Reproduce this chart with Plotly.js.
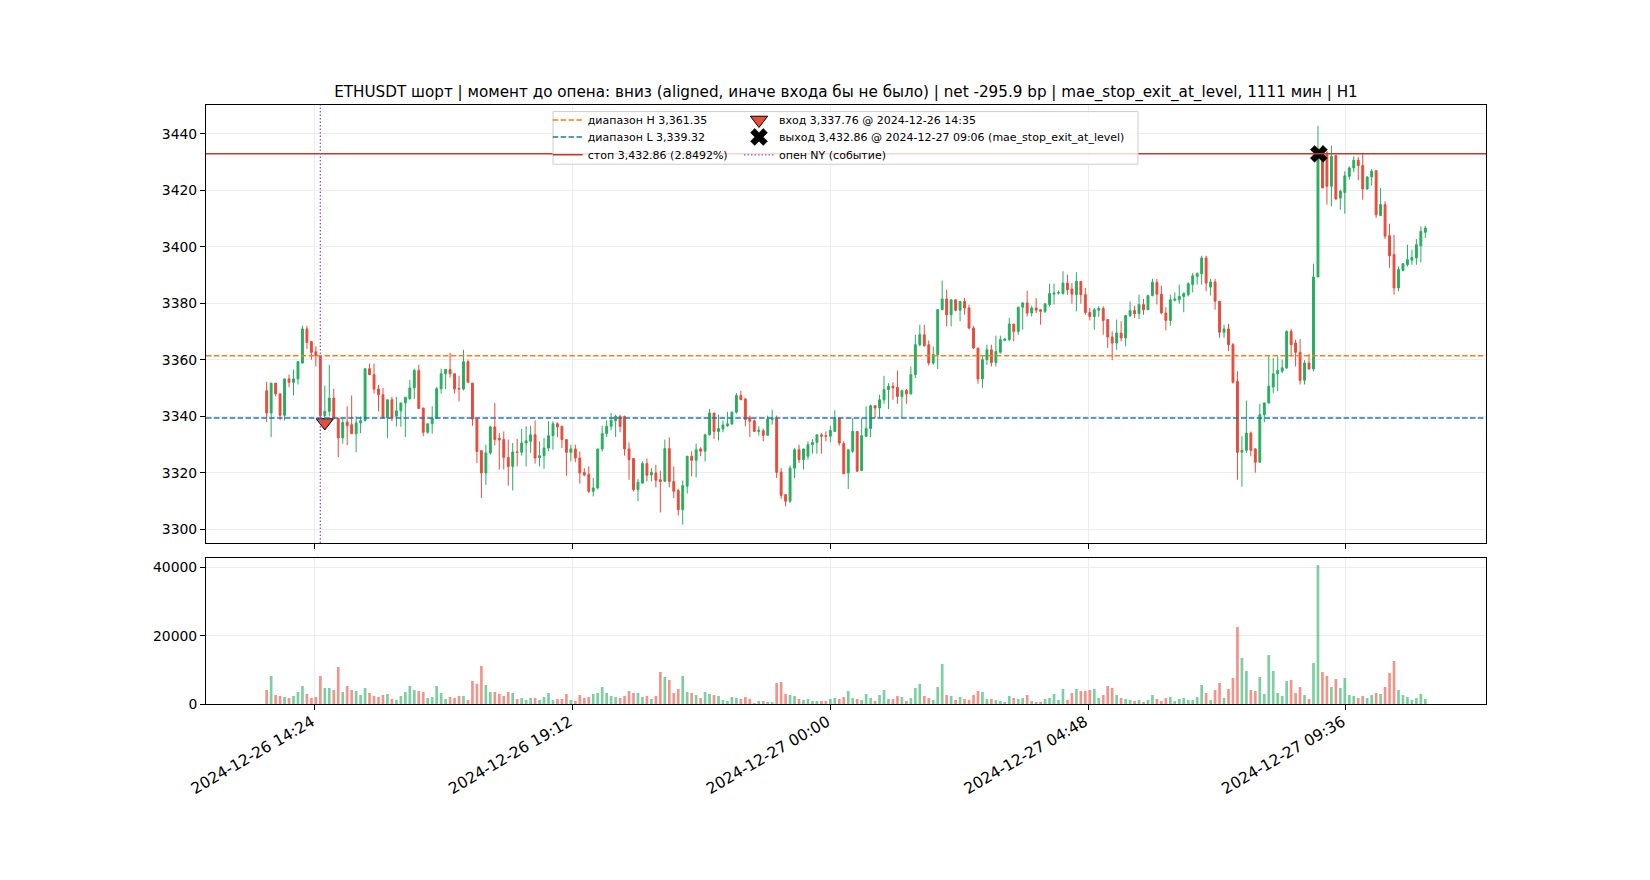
<!DOCTYPE html>
<html>
<head>
<meta charset="utf-8">
<script src="https://cdn.plot.ly/plotly-3.0.1.min.js"></script>
<style>
  html, body { margin: 0; padding: 0; background: #fff; }
  #chart { width: 1650px; height: 880px; }
</style>
</head>
<body>
<div id="chart"></div>
<script>
// 5-minute ETHUSDT bars, 2024-12-26 13:30 .. 2024-12-27 11:05 (UTC)
const BAR_START = Date.UTC(2024, 11, 26, 13, 30);
const BAR_MINUTES = 5;

const OPEN = [
    3349.0,3341.1,3351.7,3347.9,3340.3,3353.2,3352.0,3353.2,3358.8,3370.9,
    3366.4,3362.8,3361.4,3340.2,3341.7,3346.4,3339.3,3332.3,3337.9,3337.0,
    3333.8,3337.6,3338.4,3356.8,3354.7,3349.6,3347.6,3339.4,3345.8,3340.0,
    3341.9,3344.7,3346.2,3350.0,3356.2,3342.9,3334.3,3337.3,3339.3,3349.7,
    3355.0,3356.5,3355.0,3349.8,3349.6,3359.3,3351.7,3339.0,3327.8,3319.9,
    3327.0,3336.2,3332.2,3331.7,3325.4,3322.2,3327.3,3327.2,3330.5,3331.1,
    3333.4,3325.3,3326.0,3328.7,3333.1,3337.3,3336.4,3331.7,3327.2,3328.4,
    3325.2,3320.1,3319.4,3313.4,3314.6,3328.4,3333.8,3336.4,3338.4,3339.9,
    3339.9,3328.4,3325.0,3314.0,3316.3,3323.2,3319.2,3319.9,3317.5,3316.9,
    3328.5,3316.9,3313.7,3306.9,3315.2,3325.8,3324.4,3328.4,3327.6,3333.4,
    3341.1,3334.6,3335.5,3336.6,3337.2,3341.4,3347.3,3346.1,3339.4,3338.4,
    3334.6,3334.8,3333.2,3338.8,3339.1,3320.2,3312.2,3309.9,3321.6,3328.1,
    3324.6,3325.8,3329.9,3330.7,3333.4,3333.1,3332.9,3334.6,3339.3,3330.3,
    3319.9,3327.6,3334.6,3320.8,3332.9,3335.6,3343.7,3342.9,3345.8,3349.4,
    3350.6,3350.2,3347.0,3349.1,3347.9,3354.7,3365.3,3368.8,3365.3,3358.8,
    3361.8,3377.7,3381.5,3375.9,3381.2,3377.5,3380.6,3378.3,3371.2,3364.1,
    3353.2,3360.0,3363.5,3359.0,3362.6,3366.8,3367.1,3372.6,3370.0,3378.6,
    3380.1,3376.5,3378.3,3377.7,3377.1,3379.5,3383.2,3383.6,3383.4,3387.1,
    3385.0,3383.0,3387.7,3383.0,3376.7,3375.3,3377.5,3378.1,3374.2,3368.0,
    3365.9,3369.4,3367.7,3375.6,3377.4,3376.3,3379.5,3377.7,3382.7,3387.4,
    3383.2,3376.5,3373.9,3381.0,3381.2,3382.4,3383.0,3386.6,3389.5,3390.4,
    3396.0,3385.7,3387.5,3380.7,3369.7,3370.9,3365.3,3352.3,3327.2,3327.9,
    3334.0,3328.4,3323.7,3340.5,3344.7,3350.3,3355.0,3355.9,3357.1,3370.0,
    3365.9,3362.6,3352.7,3358.8,3356.7,3389.3,3434.5,3433.2,3421.4,3432.2,
    3417.2,3419.2,3424.9,3427.9,3430.6,3428.7,3420.4,3424.7,3426.9,3411.0,
    3414.9,3403.9,3397.2,3385.4,3391.6,3393.6,3395.2,3396.0,3400.3,3405.1,
];
const HIGH = [
    3352.1,3351.7,3351.7,3347.9,3353.2,3354.7,3356.5,3359.3,3372.0,3372.0,
    3366.4,3364.7,3361.4,3350.8,3358.2,3349.7,3339.3,3339.3,3343.5,3347.3,
    3339.9,3339.9,3356.8,3358.6,3358.6,3351.1,3350.0,3345.8,3346.8,3346.8,
    3344.7,3346.7,3352.9,3356.8,3358.2,3342.9,3337.3,3343.5,3350.3,3356.8,
    3356.7,3362.4,3355.0,3354.3,3363.5,3360.0,3351.7,3339.0,3327.8,3329.9,
    3336.6,3344.7,3334.0,3334.6,3331.7,3330.5,3331.9,3335.5,3336.4,3336.6,
    3338.5,3331.1,3332.3,3338.2,3338.2,3337.8,3336.6,3331.7,3329.9,3329.9,
    3327.5,3321.6,3322.2,3318.1,3328.4,3336.6,3338.5,3341.1,3340.5,3340.5,
    3340.2,3330.7,3325.0,3317.8,3324.0,3325.0,3321.6,3322.8,3320.7,3331.7,
    3332.5,3322.2,3314.3,3317.2,3325.8,3327.6,3330.3,3329.0,3333.8,3342.5,
    3341.1,3340.5,3338.4,3341.5,3341.7,3348.2,3349.0,3346.4,3340.2,3338.8,
    3336.4,3335.6,3340.2,3342.3,3340.2,3321.6,3312.2,3322.5,3328.7,3329.9,
    3328.4,3331.1,3331.9,3333.4,3334.0,3334.6,3336.6,3342.1,3339.3,3331.1,
    3328.1,3339.3,3334.6,3339.3,3343.5,3344.1,3343.7,3347.6,3354.3,3351.7,
    3352.0,3356.2,3349.4,3349.6,3357.6,3368.8,3372.4,3372.4,3366.8,3364.7,
    3377.9,3388.0,3384.8,3381.2,3381.2,3380.6,3381.8,3379.5,3372.0,3364.1,
    3361.4,3365.3,3365.3,3368.5,3368.5,3367.7,3374.8,3372.6,3378.6,3380.3,
    3384.4,3379.1,3381.8,3377.7,3379.8,3386.9,3386.9,3384.5,3391.3,3390.1,
    3387.1,3391.0,3387.7,3385.4,3378.3,3378.3,3378.9,3378.9,3374.4,3370.0,
    3374.2,3373.6,3375.9,3380.6,3379.1,3383.0,3381.5,3383.0,3388.6,3388.6,
    3386.2,3378.6,3383.0,3383.8,3386.6,3383.8,3387.4,3390.7,3390.9,3396.8,
    3396.8,3388.6,3388.6,3380.7,3372.4,3372.7,3365.9,3355.9,3332.9,3345.5,
    3334.6,3328.7,3344.4,3344.7,3361.4,3360.6,3361.2,3360.0,3370.4,3370.9,
    3367.1,3367.3,3359.8,3362.1,3394.0,3442.8,3435.8,3433.8,3435.8,3432.6,
    3420.2,3426.7,3428.4,3432.0,3431.7,3433.2,3424.9,3427.5,3426.9,3420.8,
    3416.1,3408.1,3404.2,3393.0,3394.0,3400.7,3398.9,3402.7,3407.2,3407.4,
];
const LOW = [
    3337.9,3332.6,3347.0,3338.5,3338.5,3350.3,3347.3,3351.2,3358.8,3363.8,
    3360.0,3357.6,3338.5,3339.5,3340.0,3339.3,3325.5,3330.3,3329.7,3333.8,
    3327.2,3334.0,3338.2,3354.7,3348.0,3341.7,3339.4,3332.3,3338.2,3336.4,
    3336.2,3332.6,3345.8,3346.1,3342.7,3332.9,3333.8,3333.8,3339.0,3348.0,
    3349.6,3353.7,3348.0,3345.2,3349.1,3351.7,3336.6,3323.4,3311.0,3315.7,
    3326.4,3329.6,3321.1,3321.1,3315.4,3313.7,3322.2,3326.0,3322.2,3327.0,
    3323.2,3322.2,3321.3,3327.6,3328.1,3332.6,3328.7,3318.9,3324.0,3323.7,
    3316.1,3318.7,3312.8,3311.6,3314.0,3327.5,3332.6,3335.0,3332.6,3334.3,
    3326.0,3317.5,3313.4,3309.9,3316.1,3316.9,3316.9,3314.8,3305.9,3316.9,
    3314.8,3311.0,3304.8,3301.6,3312.6,3318.7,3318.3,3325.8,3324.0,3333.1,
    3331.9,3331.4,3334.3,3336.2,3337.0,3340.9,3345.8,3336.4,3332.6,3334.6,
    3333.1,3331.1,3333.2,3337.0,3318.1,3310.7,3308.1,3309.3,3318.1,3323.4,
    3321.1,3324.6,3326.7,3326.7,3326.7,3331.1,3330.7,3334.6,3329.6,3319.6,
    3314.2,3327.0,3320.5,3320.5,3332.6,3332.6,3339.3,3339.3,3344.4,3342.5,
    3345.8,3344.4,3339.3,3344.4,3347.6,3353.5,3364.7,3364.7,3357.9,3358.2,
    3356.7,3377.5,3371.8,3371.8,3377.1,3373.6,3375.9,3370.8,3363.8,3351.5,
    3350.0,3358.2,3357.6,3357.6,3362.1,3366.5,3366.5,3366.5,3368.8,3370.6,
    3375.3,3375.3,3376.5,3372.4,3376.5,3378.9,3379.5,3383.0,3383.0,3383.0,
    3379.8,3377.1,3379.8,3375.9,3373.9,3370.6,3375.1,3368.8,3364.1,3359.8,
    3363.5,3366.5,3364.7,3375.1,3374.8,3374.4,3375.9,3377.7,3382.4,3379.5,
    3376.3,3370.4,3372.0,3380.6,3379.8,3376.8,3382.4,3383.8,3386.6,3386.6,
    3384.2,3382.7,3377.7,3367.7,3367.7,3363.0,3351.5,3317.5,3315.0,3327.0,
    3325.8,3320.0,3323.7,3337.8,3344.4,3348.2,3348.8,3355.3,3356.7,3361.2,
    3357.6,3351.2,3351.2,3356.5,3355.9,3389.3,3420.8,3414.9,3414.3,3416.6,
    3413.1,3411.7,3423.7,3426.3,3423.5,3416.6,3420.2,3421.6,3410.2,3411.0,
    3402.7,3392.5,3383.0,3384.2,3391.3,3393.0,3393.6,3393.6,3394.5,3403.1,
];
const CLOSE = [
    3341.1,3351.7,3347.9,3340.3,3353.2,3352.0,3353.2,3359.3,3370.9,3366.1,
    3362.6,3361.4,3340.2,3341.7,3346.4,3339.3,3332.3,3337.8,3336.6,3333.8,
    3337.6,3338.4,3356.8,3354.7,3349.6,3347.6,3339.4,3345.8,3339.6,3341.9,
    3344.7,3346.7,3350.0,3356.2,3342.7,3334.3,3337.3,3339.3,3349.7,3355.0,
    3356.5,3355.0,3349.6,3349.6,3359.3,3352.0,3339.0,3327.5,3319.9,3327.0,
    3336.2,3331.7,3331.6,3325.4,3322.2,3327.3,3327.2,3330.5,3331.3,3333.4,
    3325.2,3326.0,3328.7,3333.1,3337.3,3336.2,3331.7,3327.2,3328.4,3325.2,
    3319.9,3319.2,3313.4,3314.6,3328.4,3333.8,3336.4,3338.5,3339.9,3336.4,
    3328.4,3324.6,3314.0,3316.6,3323.2,3319.1,3320.1,3317.3,3316.9,3328.5,
    3316.9,3313.4,3306.9,3315.4,3325.8,3324.4,3328.1,3327.6,3333.4,3341.1,
    3334.6,3335.6,3336.9,3337.3,3341.4,3347.3,3345.8,3338.8,3338.2,3334.6,
    3335.0,3333.2,3339.0,3339.4,3320.1,3312.0,3309.9,3321.6,3328.1,3324.6,
    3328.4,3329.9,3330.7,3333.4,3332.9,3332.9,3334.9,3339.3,3330.5,3319.6,
    3328.1,3334.6,3320.5,3333.1,3335.6,3343.7,3342.9,3345.8,3349.4,3350.6,
    3350.0,3347.0,3349.0,3347.9,3354.7,3365.3,3368.8,3364.9,3358.8,3361.8,
    3377.7,3381.5,3375.9,3381.2,3377.5,3380.6,3378.3,3371.2,3364.1,3353.2,
    3360.0,3363.5,3359.0,3362.9,3367.1,3367.3,3372.6,3370.0,3378.6,3380.1,
    3376.5,3378.3,3377.5,3377.1,3379.8,3383.4,3383.6,3383.7,3387.1,3384.8,
    3383.2,3387.7,3383.0,3376.7,3375.3,3377.7,3378.1,3373.9,3368.0,3365.9,
    3369.4,3367.7,3375.6,3377.4,3376.3,3379.5,3377.7,3382.7,3387.4,3383.2,
    3376.5,3373.9,3381.2,3381.5,3382.4,3383.4,3386.9,3389.7,3390.4,3396.0,
    3387.1,3387.5,3380.7,3369.7,3370.9,3365.3,3352.0,3327.2,3327.9,3334.0,
    3327.9,3323.7,3340.5,3344.7,3350.6,3355.0,3356.2,3357.1,3370.0,3365.3,
    3362.6,3352.7,3358.8,3356.7,3389.3,3434.5,3420.8,3421.4,3432.0,3416.9,
    3419.6,3425.1,3427.9,3430.6,3428.7,3420.4,3424.7,3426.7,3411.3,3414.9,
    3403.7,3396.8,3385.4,3391.9,3394.0,3395.4,3396.2,3400.7,3405.4,3406.6,
];
const VOLUME = [
    4100,8200,2630,2340,2050,1760,2340,3510,5270,2930,
    1760,2050,8200,4680,4680,4100,10830,3510,5270,4100,
    3800,2630,4680,3220,2340,2050,2630,2930,1460,1170,
    2340,3510,5270,4100,3800,3510,1760,2050,5270,3220,
    1460,2050,1760,2340,2340,1170,6730,5850,11120,5560,
    3510,3510,2930,2340,3510,3220,1460,1760,1170,1760,
    1760,1170,2050,3220,1170,1460,1460,2930,1170,880,
    2630,1760,2050,2930,3220,4980,3220,2340,2050,1760,
    2340,3800,3220,3220,2050,2340,1460,2340,9370,7900,
    7020,3220,4390,8200,3510,3220,2630,1760,3510,2930,
    2630,2340,1170,880,2050,1760,1460,2050,1460,290,
    880,880,590,590,6150,6440,2930,2630,2340,1460,
    1170,1460,880,880,880,880,1460,1760,1460,2050,
    3800,1760,1460,1170,2930,1760,880,2630,4100,1460,
    1460,2340,2050,880,1760,4680,5850,2340,1760,1170,
    4980,11700,2630,2340,1170,2050,1460,1170,2630,3800,
    3510,1460,1460,1170,880,590,2340,1760,1460,1760,
    2630,880,590,590,1460,1760,2930,1170,4390,1170,
    3220,4390,3800,3800,4100,4390,1760,2630,5270,4680,
    2630,1760,1460,1170,880,1170,590,1170,2630,1460,
    880,1760,2050,880,1460,1760,1170,1170,2050,5560,
    3220,1170,4100,6150,1760,4390,7610,22540,13460,9660,
    4100,3800,7900,2930,14340,9660,3220,2340,6730,7020,
    3220,4980,2630,1460,12000,40680,9370,8200,4980,7320,
    4680,7610,2630,2340,1760,2340,1760,2630,3220,2930,
    4980,9070,12590,4100,2630,2050,1170,1760,2930,1460,
];

// trade levels and events
const RANGE_HIGH = 3361.35;
const RANGE_LOW = 3339.32;
const STOP_LEVEL = 3432.86;
const ENTRY = { time: "2024-12-26 14:35", price: 3337.76 };
const EXIT = { time: "2024-12-27 09:06", price: 3432.86 };
const NY_OPEN = "2024-12-26 14:30";

const TICK_TIMES = ["2024-12-26 14:24", "2024-12-26 19:12", "2024-12-27 00:00", "2024-12-27 04:48", "2024-12-27 09:36"];
const PRICE_TICKS = [3300, 3320, 3340, 3360, 3380, 3400, 3420, 3440];
const VOLUME_TICKS = [0, 20000, 40000];

const TITLE = "ETHUSDT шорт | момент до опена: вниз (aligned, иначе входа бы не было) | net -295.9 bp | mae_stop_exit_at_level, 1111 мин | H1";

const UP = "#27ae60";
const DOWN = "#e74c3c";
const FONT = "DejaVu Sans, Liberation Sans, sans-serif";

function stamp(ms) {
    return new Date(ms).toISOString().slice(0, 16).replace("T", " ");
}
const TIMES = CLOSE.map((_, i) => stamp(BAR_START + i * BAR_MINUTES * 60000));
const volColors = CLOSE.map((c, i) => (c >= OPEN[i] ? UP : DOWN));

const traces = [
    {
        type: "candlestick",
        x: TIMES, open: OPEN, high: HIGH, low: LOW, close: CLOSE,
        xaxis: "x", yaxis: "y",
        increasing: { line: { color: UP, width: 1 }, fillcolor: UP },
        decreasing: { line: { color: DOWN, width: 1 }, fillcolor: DOWN },
        whiskerwidth: 0,
        showlegend: false, hoverinfo: "skip",
    },
    {
        type: "bar",
        x: TIMES, y: VOLUME,
        xaxis: "x2", yaxis: "y2",
        width: 3 * 60000,
        marker: { color: volColors, opacity: 0.6, line: { width: 0 } },
        showlegend: false, hoverinfo: "skip",
    },
    {
        type: "scatter", mode: "markers",
        x: [ENTRY.time], y: [ENTRY.price],
        xaxis: "x", yaxis: "y",
        name: "вход 3,337.76 @ 2024-12-26 14:35",
        legend: "legend4",
        marker: { symbol: "triangle-down", size: 15, color: DOWN, line: { color: "#000", width: 1 } },
        hoverinfo: "skip",
    },
    {
        type: "scatter", mode: "markers",
        x: [EXIT.time], y: [EXIT.price],
        xaxis: "x", yaxis: "y",
        name: "выход 3,432.86 @ 2024-12-27 09:06 (mae_stop_exit_at_level)",
        legend: "legend5",
        marker: { symbol: "x", size: 15, color: "#000", line: { color: "#000", width: 0.5 } },
        hoverinfo: "skip",
    },
];

const hline = (y, color, dash, name, legend) => ({
    type: "line", xref: "x domain", yref: "y", x0: 0, x1: 1, y0: y, y1: y,
    line: { color, width: 1.5, dash },
    showlegend: true, name, legend,
});

const shapes = [
    hline(RANGE_HIGH, "#ff7f0e", "5.5px,2.4px", "диапазон H 3,361.35", "legend"),
    hline(RANGE_LOW, "#1f77b4", "5.5px,2.4px", "диапазон L 3,339.32", "legend2"),
    hline(STOP_LEVEL, "#c0392b", "solid", "стоп 3,432.86 (2.8492%)", "legend3"),
    {
        type: "line", xref: "x", yref: "y domain", x0: NY_OPEN, x1: NY_OPEN, y0: 0, y1: 1,
        line: { color: "#9b59b6", width: 1.3, dash: "1.5px,2px" },
        showlegend: true, name: "опен NY (событие)", legend: "legend6",
    },
    // legend frame
    {
        type: "rect", xref: "paper", yref: "paper", layer: "above",
        x0: 0.2711, x1: 0.7281, y0: 0.9011, y1: 0.989,
        fillcolor: "rgba(255,255,255,0.8)", line: { color: "#cccccc", width: 1 },
    },
];

const gridColor = "#e9e9e9";
const axisCommon = {
    showline: true, mirror: true, linecolor: "#000", linewidth: 1,
    ticks: "outside", ticklen: 5, tickwidth: 1, tickcolor: "#000",
    showgrid: true, gridcolor: gridColor, gridwidth: 0.8, zeroline: false,
    tickfont: { family: FONT, size: 13.9, color: "#000" },
};

// one legend box per entry, so the rows sit as tightly as in the reference
const LEGEND_COLS = [0.267, 0.4164];
const LEGEND_ROWS = [0.975, 0.9467, 0.9168];
const legendBox = (col, row) => ({
    x: LEGEND_COLS[col], y: LEGEND_ROWS[row], xanchor: "left", yanchor: "middle",
    bgcolor: "rgba(0,0,0,0)", borderwidth: 0,
    font: { family: FONT, size: 11, color: "#000" },
});

const layout = {
    width: 1650, height: 880,
    paper_bgcolor: "#fff", plot_bgcolor: "#fff",
    margin: { l: 206, r: 164, t: 105, b: 175.5, autoexpand: false },
    font: { family: FONT, color: "#000" },
    title: {
        text: TITLE, font: { family: FONT, size: 15.2, color: "#000" },
        xref: "paper", x: 0.5, xanchor: "center",
        yref: "container", y: 1 - 91.6 / 880, yanchor: "middle",
    },
    boxgap: 0.4,
    showlegend: true,
    xaxis: Object.assign({}, axisCommon, {
        type: "date", anchor: "y", domain: [0, 1],
        range: ["2024-12-26 12:22:12", "2024-12-27 12:12:48"],
        tickvals: TICK_TIMES, showticklabels: false,
        rangeslider: { visible: false },
    }),
    xaxis2: Object.assign({}, axisCommon, {
        type: "date", anchor: "y2", domain: [0, 1], matches: "x",
        range: ["2024-12-26 12:22:12", "2024-12-27 12:12:48"],
        tickvals: TICK_TIMES,
        ticktext: TICK_TIMES,
        tickangle: -30,
        ticklabelstandoff: -3,
        ticklabelshift: -3,
        tickfont: { family: FONT, size: 15.5, color: "#000" },
        rangeslider: { visible: false },
    }),
    yaxis: Object.assign({}, axisCommon, {
        anchor: "x", domain: [0.2687, 1],
        range: [3295.08, 3450.16],
        tickvals: PRICE_TICKS,
    }),
    yaxis2: Object.assign({}, axisCommon, {
        anchor: "x2", domain: [0, 0.2444],
        range: [0, 42870],
        tickvals: VOLUME_TICKS, tickformat: "d",
    }),
    legend: legendBox(0, 0),
    legend2: legendBox(0, 1),
    legend3: legendBox(0, 2),
    legend4: legendBox(1, 0),
    legend5: legendBox(1, 1),
    legend6: legendBox(1, 2),
    shapes,
};

Plotly.newPlot("chart", traces, layout, { displayModeBar: false, staticPlot: true });
</script>
</body>
</html>
